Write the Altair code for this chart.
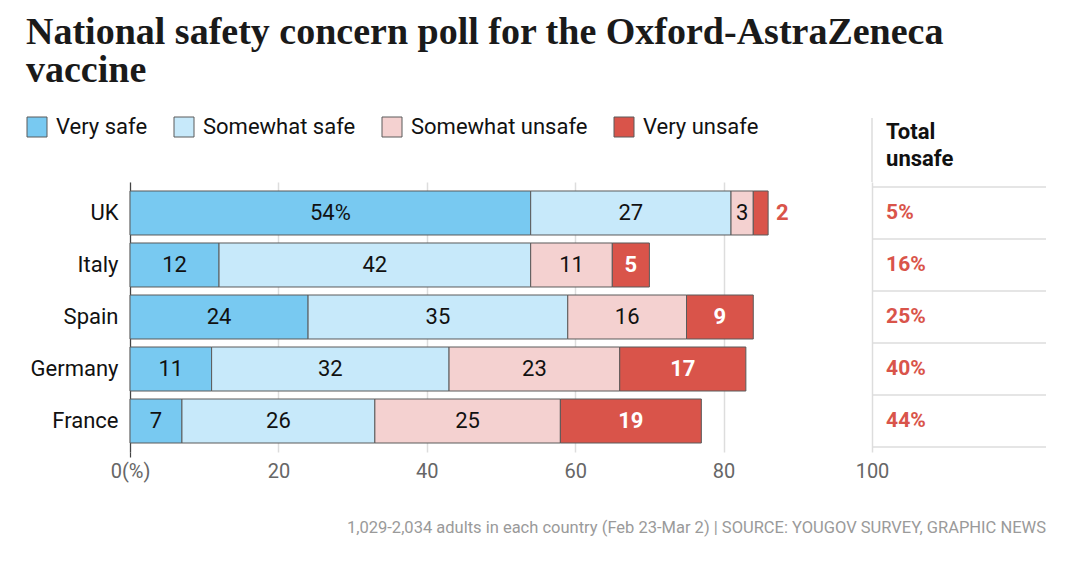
import altair as alt
import pandas as pd

# ---------------- data ----------------
countries = ["UK", "Italy", "Spain", "Germany", "France"]
categories = ["Very safe", "Somewhat safe", "Somewhat unsafe", "Very unsafe"]
very_safe = [54, 12, 24, 11, 7]
somewhat_safe = [27, 42, 35, 32, 26]
somewhat_unsafe = [3, 11, 16, 23, 25]
very_unsafe = [2, 5, 9, 17, 19]
total_unsafe = [5, 16, 25, 40, 44]
x_ticks = [0, 20, 40, 60, 80, 100]
colors = ["#78c9f1", "#c7e9fa", "#f4d1d0", "#d9544a"]

title_lines = ["National safety concern poll for the Oxford-AstraZeneca", "vaccine"]
header_lines = ["Total", "unsafe"]
footnote = "1,029-2,034 adults in each country (Feb 23-Mar 2) | SOURCE: YOUGOV SURVEY, GRAPHIC NEWS"

SANS = "Roboto"
SERIF = "Liberation Serif"
RED = "#d9544a"

# ---------------- tables ----------------
series = [very_safe, somewhat_safe, somewhat_unsafe, very_unsafe]
rows = []
for i, c in enumerate(countries):
    start = 0
    for j, cat in enumerate(categories):
        v = series[j][i]
        label = f"{v}%" if (i == 0 and j == 0) else str(v)
        if v <= 2:
            kind = "outside"
        elif j == 3:
            kind = "white"
        else:
            kind = "black"
        rows.append(dict(country=c, category=cat, start=start, end=start + v,
                         mid=start + v / 2, label=label, kind=kind, order=j))
        start += v
bars_df = pd.DataFrame(rows)

tot_df = pd.DataFrame({"country": countries,
                       "label": [f"{t}%" for t in total_unsafe]})
sep_df = pd.DataFrame({"country": countries})
last_df = pd.DataFrame({"country": [countries[-1]]})
ann_df = pd.DataFrame({"a": [0]})
title_df = pd.DataFrame({"line": title_lines, "row": [0, 1]})

X_MAX = 123.45
xscale = alt.Scale(domain=[0, X_MAX], nice=False, zero=True)
yscale = alt.Scale(domain=countries, paddingInner=0.154, paddingOuter=0.173)

x_axis = alt.Axis(values=x_ticks, grid=True, gridColor="#dddddd", gridWidth=1.5,
                  domain=False, ticks=True, tickSize=5, tickWidth=1.2,
                  tickColor={"condition": {"test": "datum.value == 0", "value": "#444444"},
                             "value": "transparent"},
                  labelFontSize=20, labelColor="#666666",
                  labelFont=SANS, labelPadding=4, title=None, labelFlush=False,
                  labelExpr="datum.value == 0 ? '0(%)' : datum.label")
y_axis = alt.Axis(title=None, domain=True, domainColor="#444444", domainWidth=1.2,
                  ticks=False, labelFontSize=22, labelFont=SANS, labelColor="#111111",
                  labelPadding=12, grid=False)

def X(field):
    return alt.X(field, scale=xscale)

def Y(**kw):
    return alt.Y("country:N", scale=yscale, sort=countries, **kw)

base = alt.Chart(bars_df)

bars = base.mark_bar(stroke="#5a5a5a", strokeWidth=1, opacity=1).encode(
    x=alt.X("start:Q", scale=xscale, axis=x_axis),
    x2="end:Q",
    y=alt.Y("country:N", scale=yscale, axis=y_axis, sort=countries),
    color=alt.Color("category:N", scale=alt.Scale(domain=categories, range=colors),
                    legend=alt.Legend(orient="none", legendX=-104, legendY=-66,
                                      direction="horizontal", title=None,
                                      symbolType="square", symbolSize=400,
                                      symbolStrokeColor="#5a5a5a", symbolStrokeWidth=1,
                                      symbolOpacity=1, labelLimit=0,
                                      labelFontSize=22, labelFont=SANS,
                                      labelColor="#111111", labelOffset=8,
                                      columnPadding=24)),
    order="order:Q",
)

lbl_black = base.transform_filter(alt.datum.kind == "black").mark_text(
    font=SANS, fontSize=22, color="#111111", baseline="middle").encode(
    x=X("mid:Q"), y=Y(), text="label:N")

lbl_white = base.transform_filter(alt.datum.kind == "white").mark_text(
    font=SANS, fontSize=22, fontWeight="bold", color="white", baseline="middle").encode(
    x=X("mid:Q"), y=Y(), text="label:N")

lbl_out = base.transform_filter(alt.datum.kind == "outside").mark_text(
    font=SANS, fontSize=22, fontWeight="bold", color=RED, baseline="middle",
    align="left", dx=8).encode(
    x=X("end:Q"), y=Y(), text="label:N")

tot = alt.Chart(tot_df).mark_text(font=SANS, fontSize=21, fontWeight="bold", color=RED,
                                  align="left", baseline="middle").encode(
    x=alt.datum(101.9, scale=xscale), y=Y(), text="label:N")

seps = alt.Chart(sep_df).mark_rule(color="#dddddd", strokeWidth=1.5, yOffset=-4).encode(
    x=alt.datum(100, scale=xscale), x2=alt.datum(X_MAX),
    y=Y(bandPosition=0))

sep_last = alt.Chart(last_df).mark_rule(color="#dddddd", strokeWidth=1.5, yOffset=4).encode(
    x=alt.datum(100, scale=xscale), x2=alt.datum(X_MAX),
    y=Y(bandPosition=1))

vline = alt.Chart(ann_df).mark_rule(color="#dddddd", strokeWidth=1.5).encode(
    x=alt.datum(100, scale=xscale), y=alt.value(-64), y2=alt.value(0))

title1 = alt.Chart(title_df).transform_filter(alt.datum.row == 0).mark_text(
    font=SERIF, fontSize=38, fontWeight="bold", color="#1a1a1a", align="left",
    baseline="alphabetic").encode(x=alt.value(-104), y=alt.value(-138), text="line:N")

title2 = alt.Chart(title_df).transform_filter(alt.datum.row == 1).mark_text(
    font=SERIF, fontSize=38, fontWeight="bold", color="#1a1a1a", align="left",
    baseline="alphabetic").encode(x=alt.value(-104), y=alt.value(-100), text="line:N")

header = alt.Chart(ann_df).mark_text(font=SANS, fontSize=22, fontWeight="bold",
                                     color="#111111", align="left", baseline="alphabetic",
                                     lineHeight=27).encode(
    x=alt.datum(101.9, scale=xscale), y=alt.value(-43),
    text=alt.value(header_lines))

foot = alt.Chart(ann_df).mark_text(font=SANS, fontSize=16.5, color="#9a9a9a",
                                   align="right", baseline="alphabetic").encode(
    x=alt.value(916), y=alt.value(351), text=alt.value(footnote))

chart = alt.layer(bars, seps, sep_last, vline, lbl_black, lbl_white, lbl_out, tot,
                  header, title1, title2, foot).properties(
    width=916, height=270,
    padding={"left": 122, "top": 174, "right": 20, "bottom": 100},
    autosize=alt.AutoSizeParams(type="none"),
).configure(background="white",
            view=alt.ViewConfig(strokeWidth=0, stroke="transparent"))

chart.save("out.html", embed_options={"renderer": "svg", "actions": False})
